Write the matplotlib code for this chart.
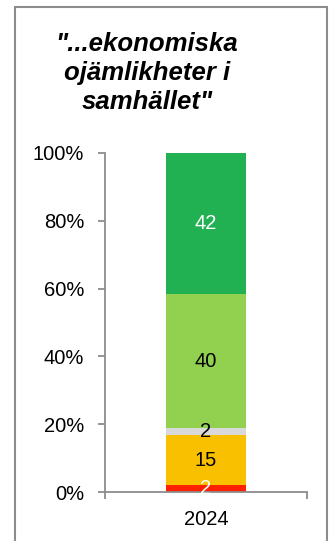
import matplotlib.pyplot as plt
from matplotlib.patches import Rectangle

plt.rcParams['font.family'] = ['Liberation Sans', 'DejaVu Sans']

# andelar i procent, nedifrån och upp
year = ['2024']
values = [2, 15, 2, 40, 42]
colors = ['#FF2000', '#F9C000', '#D9D9D9', '#92D050', '#21B052']
label_colors = ['white', 'black', 'black', 'black', 'white']
title = '"...ekonomiska\nojämlikheter i\nsamhället"'
yticks = [0, 20, 40, 60, 80, 100]

W, H = 334, 541
fig = plt.figure(figsize=(W / 100, H / 100), dpi=100)
ax = fig.add_axes([105 / W, 1 - 492 / H, 202 / W, 339 / H])

total = sum(values)
bottom = 0
for v, c, lc in zip(values, colors, label_colors):
    share = v / total * 100
    ax.bar(0, share, width=0.4, bottom=bottom, color=c, zorder=2)
    ax.text(0, bottom + share / 2, str(v), ha='center', va='center',
            fontsize=14.5, color=lc, zorder=3)
    bottom += share

ax.set_xlim(-0.5, 0.5)
ax.set_ylim(0, 100)
ax.set_yticks(yticks)
ax.set_yticklabels([f'{t}%' for t in yticks], fontsize=14.5)
ax.set_xticks([0])
ax.set_xticklabels(year, fontsize=14.5)
ax.set_xticks([-0.5, 0.5], minor=True)
ax.tick_params(axis='x', which='major', length=0, pad=13)
ax.tick_params(axis='x', which='minor', length=5, width=1.3, color='#8C8C8C', direction='out')
ax.tick_params(axis='y', length=5, width=1.3, color='#8C8C8C', direction='out', pad=10)

for side in ['top', 'right']:
    ax.spines[side].set_visible(False)
for side in ['left', 'bottom']:
    ax.spines[side].set_color('#8C8C8C')
    ax.spines[side].set_linewidth(1.3)

# ram runt hela diagrammet
fig.patches.append(Rectangle((15 / W, -0.05), 312 / W, 1.05 - 7 / H,
                             transform=fig.transFigure, fill=False,
                             edgecolor='#8C8C8C', linewidth=1.5))

fig.text(147 / W, 1 - 73 / H, title, ha='center', va='center',
         fontsize=18.5, fontweight='bold', fontstyle='italic', linespacing=1.24)

fig.savefig('out.png', dpi=100)
